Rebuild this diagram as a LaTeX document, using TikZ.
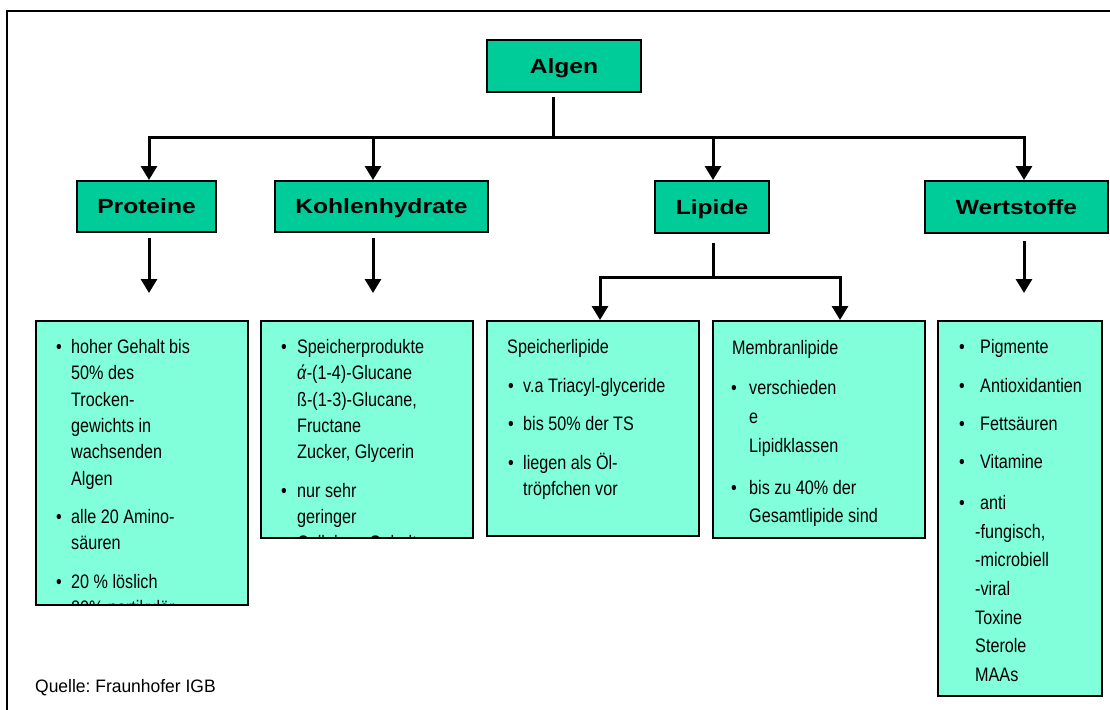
\documentclass[tikz,border=0pt]{standalone}
\usepackage{fontspec}
\setmainfont{Liberation Sans}
\newfontfamily\bodyf[FakeStretch=0.83]{Liberation Sans}
\newfontfamily\headf[FakeStretch=1.2]{Liberation Sans}
\newfontfamily\quellef[FakeStretch=0.97]{Liberation Sans}
\usetikzlibrary{arrows.meta}
\definecolor{headgreen}{RGB}{0,204,153}
\definecolor{lowgreen}{RGB}{128,255,218}
\frenchspacing
\begin{document}
\begin{tikzpicture}[x=1pt,y=-1pt,
  headbox/.style={draw=black, line width=2pt, fill=headgreen, inner sep=0pt,
    text height=14.5pt, text depth=0pt,
    font=\headf\bfseries\fontsize{20.5}{24}\selectfont},
  lowbox/.style={draw=black, line width=2pt, fill=lowgreen, inner sep=0pt},
  body/.style={anchor=base west, inner sep=0pt, font=\bodyf\fontsize{19.5}{24}\selectfont},
  conn/.style={line width=3pt},
  arr/.style={line width=3pt, -{Triangle[width=16pt,length=14pt]}},
]
\useasboundingbox (0,0) rectangle (1110,709);
% outer frame
\draw[line width=2pt] (7,11) rectangle (1118,718);

% header boxes
\node[headbox, minimum width=154pt, minimum height=52pt] (algen) at (564,66) {Algen};
\node[headbox, minimum width=139pt, minimum height=51pt] (prot) at (146.5,206.5) {Proteine};
\node[headbox, minimum width=213pt, minimum height=51pt] (kh) at (381.5,206.5) {Kohlenhydrate};
\node[headbox, minimum width=114pt, minimum height=52pt] (lip) at (712,207) {Lipide};
\node[headbox, minimum width=183pt, minimum height=52pt] (wert) at (1016.5,207) {Wertstoffe};

% lower boxes
\node[lowbox, minimum width=212pt, minimum height=284pt] (b1) at (142,463) {};
\node[lowbox, minimum width=212pt, minimum height=217pt] (b2) at (367,429.5) {};
\node[lowbox, minimum width=212pt, minimum height=215pt] (b3) at (593,428.5) {};
\node[lowbox, minimum width=212pt, minimum height=217pt] (b4) at (819,429.5) {};
\node[lowbox, minimum width=164pt, minimum height=375pt] (b5) at (1020,508.5) {};

% connectors
\coordinate (busA) at (553,137);
\draw[conn, shorten <=4pt] (algen.south -| busA) -- (busA);
\draw[arr] (busA) -| ([xshift=2.5pt]prot.north);
\draw[arr] (busA) -| ([xshift=-8.5pt]kh.north);
\draw[arr] (busA) -| ([xshift=1pt]lip.north);
\draw[arr] (busA) -| ([xshift=7.5pt]wert.north);

\coordinate (pe) at (149,293);
\draw[arr, shorten <=5pt] (prot.south -| pe) -- (pe);
\coordinate (ke) at (373,293);
\draw[arr, shorten <=5pt] (kh.south -| ke) -- (ke);
\coordinate (we) at (1024,293);
\draw[arr, shorten <=7pt] (wert.south -| we) -- (we);

\coordinate (busL) at (713,277);
\draw[conn, shorten <=9pt] (lip.south -| busL) -- (busL);
\draw[arr] (busL) -| ([xshift=7pt]b3.north);
\draw[arr] (busL) -| ([xshift=21pt]b4.north);

% box 1 text
\begin{scope}
\clip ([xshift=1pt,yshift=1pt]b1.south west) rectangle ([xshift=-1pt,yshift=-1pt]b1.north east);
\node[body] (b1m1) at (56,353.3) {•};
\node[body] (b1t1) at (71,353.3) {hoher Gehalt bis};
\node[body] (b1t2) at (71,379.7) {50\% des};
\node[body] (b1t3) at (71,406) {Trocken-};
\node[body] (b1t4) at (71,432.4) {gewichts in};
\node[body] (b1t5) at (71,458.8) {wachsenden};
\node[body] (b1t6) at (71,485.2) {Algen};
\node[body] (b1m2) at (56,523.5) {•};
\node[body] (b1t7) at (71,523.5) {alle 20 Amino-};
\node[body] (b1t8) at (71,549.9) {säuren};
\node[body] (b1m3) at (56,588.2) {•};
\node[body] (b1t9) at (71,588.2) {20 \% löslich};
\node[body] (b1t10) at (71,614.6) {80\% partikulär};
\end{scope}

% box 2 text
\begin{scope}
\clip ([xshift=1pt,yshift=1pt]b2.south west) rectangle ([xshift=-1pt,yshift=-1pt]b2.north east);
\node[body] (b2m1) at (281,353.3) {•};
\node[body] (b2t1) at (297,353.3) {Speicherprodukte};
\node[body] (b2t2) at (297,379.7) {\textit{ά}-(1-4)-Glucane};
\node[body] (b2t3) at (297,406) {ß-(1-3)-Glucane,};
\node[body] (b2t4) at (297,432.4) {Fructane};
\node[body] (b2t5) at (297,458.8) {Zucker, Glycerin};
\node[body] (b2m2) at (281,497.1) {•};
\node[body] (b2t6) at (297,497.1) {nur sehr};
\node[body] (b2t7) at (297,523.5) {geringer};
\node[body] (b2t8) at (297,549.9) {Cellulose-Gehalt};
\end{scope}

% box 3 text
\node[body] (b3t0) at (507,353) {Speicherlipide};
\node[body] (b3m1) at (508,392.5) {•};
\node[body] (b3t1) at (523,392.5) {v.a Triacyl-glyceride};
\node[body] (b3m2) at (508,430.5) {•};
\node[body] (b3t2) at (523,430.5) {bis 50\% der TS};
\node[body] (b3m3) at (508,469) {•};
\node[body] (b3t3) at (523,469) {liegen als Öl-};
\node[body] (b3t4) at (523,495.5) {tröpfchen vor};

% box 4 text
\node[body] (b4t0) at (732,354) {Membranlipide};
\node[body] (b4m1) at (731,394) {•};
\node[body] (b4t1) at (749,394) {verschieden};
\node[body] (b4t2) at (749,423) {e};
\node[body] (b4t3) at (749,452) {Lipidklassen};
\node[body] (b4m2) at (731,494) {•};
\node[body] (b4t4) at (749,494) {bis zu 40\% der};
\node[body] (b4t5) at (749,522.5) {Gesamtlipide sind};

% box 5 text
\node[body] (b5m1) at (959,353) {•};
\node[body] (b5t1) at (980,353) {Pigmente};
\node[body] (b5m2) at (959,392) {•};
\node[body] (b5t2) at (980,392) {Antioxidantien};
\node[body] (b5m3) at (959,430) {•};
\node[body] (b5t3) at (980,430) {Fettsäuren};
\node[body] (b5m4) at (959,468) {•};
\node[body] (b5t4) at (980,468) {Vitamine};
\node[body] (b5m5) at (959,509) {•};
\node[body] (b5t5) at (980,509) {anti};
\node[body] (b5t6) at (975,538) {-fungisch,};
\node[body] (b5t7) at (975,566.5) {-microbiell};
\node[body] (b5t8) at (975,595) {-viral};
\node[body] (b5t9) at (975,624) {Toxine};
\node[body] (b5t10) at (975,652.5) {Sterole};
\node[body] (b5t11) at (975,681) {MAAs};

% source
\node[anchor=base west, inner sep=0pt, font=\quellef\fontsize{18}{22}\selectfont] (quelle) at (35,692) {Quelle: Fraunhofer IGB};
\end{tikzpicture}
\end{document}
